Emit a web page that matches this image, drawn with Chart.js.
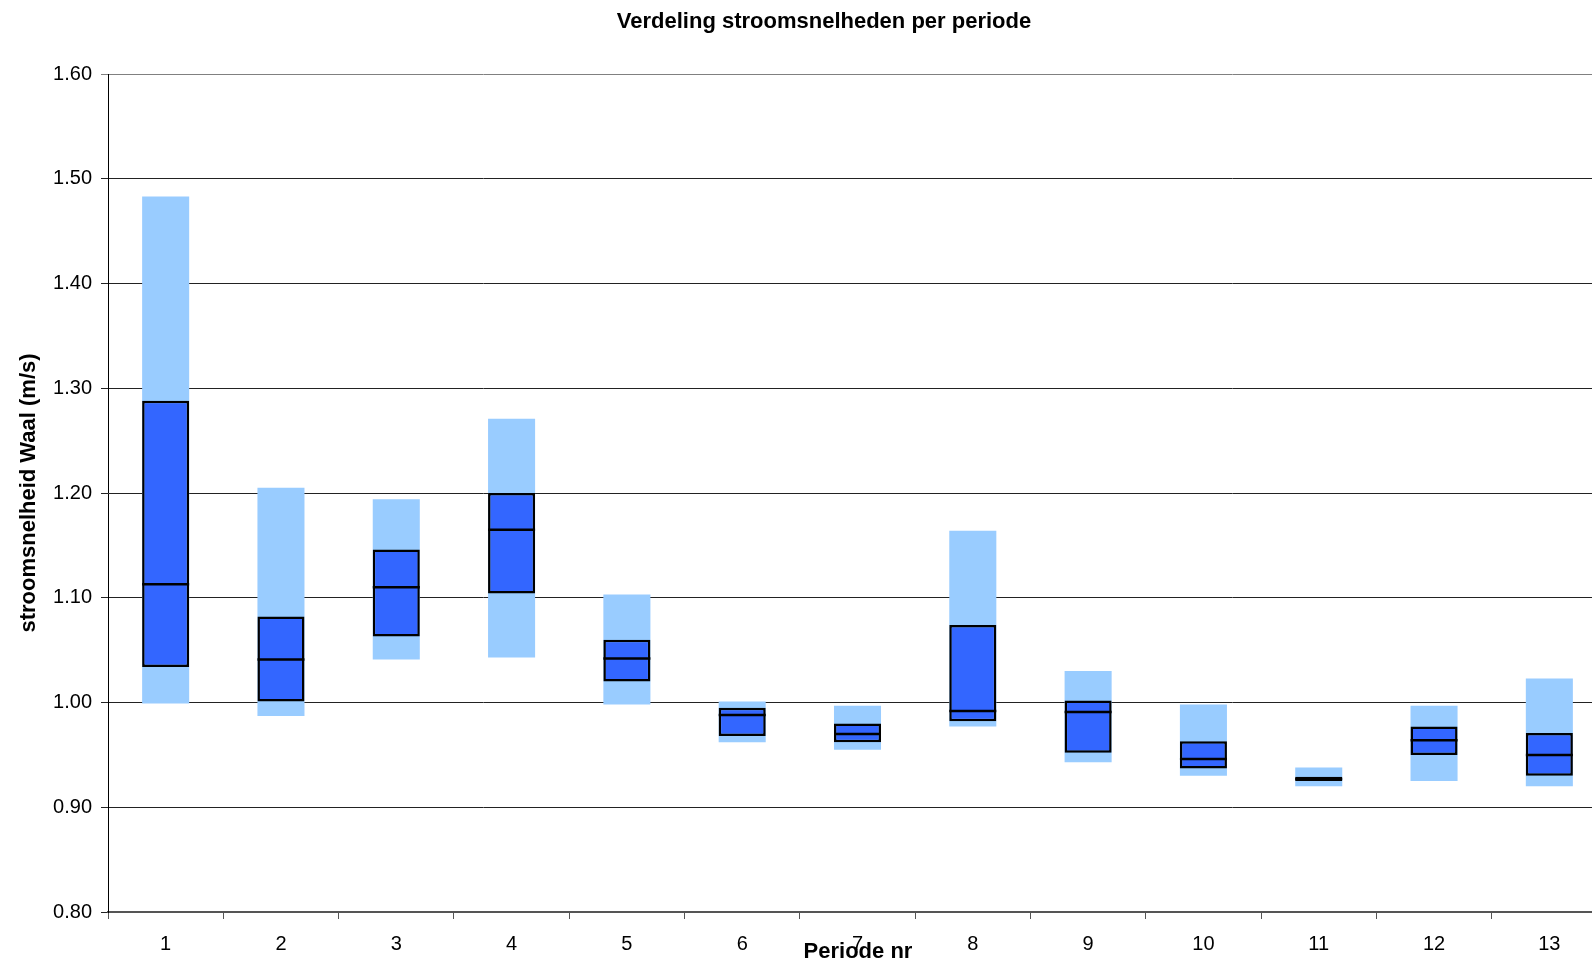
<!DOCTYPE html>
<html>
<head>
<meta charset="utf-8">
<script src="https://cdn.jsdelivr.net/npm/chart.js@4.4.1/dist/chart.umd.min.js"></script>
<style>
  html, body { margin: 0; padding: 0; background: #fff; overflow: hidden; }
  #wrap { position: absolute; left: 0; top: 0; width: 1620px; height: 963px; }
  canvas { display: block; }
</style>
</head>
<body>
<div id="wrap"><canvas id="c" width="1620" height="963" style="width:1620px;height:963px"></canvas></div>
<script>
const periods   = ['1','2','3','4','5','6','7','8','9','10','11','12','13'];
const lightMin  = [0.999, 0.987, 1.041, 1.043, 0.998, 0.962, 0.955, 0.977, 0.943, 0.930, 0.920, 0.925, 0.920];
const lightMax  = [1.483, 1.205, 1.194, 1.271, 1.103, 1.001, 0.997, 1.164, 1.030, 0.998, 0.938, 0.997, 1.023];
const boxLow    = [1.034, 1.001, 1.063, 1.104, 1.020, 0.968, 0.962, 0.982, 0.952, 0.937, 0.925, 0.950, 0.930];
const boxHigh   = [1.288, 1.082, 1.146, 1.200, 1.060, 0.995, 0.980, 1.074, 1.002, 0.963, 0.929, 0.977, 0.971];
const medians   = [1.113, 1.041, 1.110, 1.165, 1.042, 0.988, 0.970, 0.992, 0.991, 0.946, 0.927, 0.964, 0.950];
const yTicks    = [0.80, 0.90, 1.00, 1.10, 1.20, 1.30, 1.40, 1.50, 1.60];

const chartTitle = 'Verdeling stroomsnelheden per periode';
const xTitle = 'Periode nr';
const yTitle = 'stroomsnelheid Waal (m/s)';

const FONT = '"Liberation Sans", Arial, sans-serif';

const textPlugin = {
  id: 'texts',
  afterDraw(chart) {
    const ctx = chart.ctx;
    ctx.save();
    ctx.fillStyle = '#000';
    ctx.font = 'bold 22px ' + FONT;
    ctx.textAlign = 'center';
    ctx.textBaseline = 'alphabetic';
    ctx.fillText(chartTitle, 824, 28);
    ctx.fillText(xTitle, 858, 958);
    ctx.translate(35, 493);
    ctx.rotate(-Math.PI / 2);
    ctx.fillText(yTitle, 0, 0);
    ctx.restore();
  }
};

new Chart(document.getElementById('c'), {
  data: {
    labels: periods,
    datasets: [
      {
        type: 'line',
        data: medians,
        showLine: false,
        pointStyle: 'line',
        pointRadius: 23.5,
        pointHoverRadius: 23.5,
        pointBorderWidth: 2.5,
        pointBorderColor: '#000',
        borderColor: '#000',
        order: 1
      },
      {
        type: 'bar',
        data: boxLow.map((v, i) => [v, boxHigh[i]]),
        backgroundColor: '#3366FF',
        borderColor: '#000',
        borderWidth: 2.5,
        borderSkipped: false,
        grouped: false,
        barPercentage: 0.408,
        categoryPercentage: 1,
        order: 2
      },
      {
        type: 'bar',
        data: lightMin.map((v, i) => [v, lightMax[i]]),
        backgroundColor: '#99CCFF',
        borderWidth: 0,
        grouped: false,
        barPercentage: 0.408,
        categoryPercentage: 1,
        order: 3
      }
    ]
  },
  options: {
    responsive: false,
    animation: false,
    events: [],
    layout: { autoPadding: false, padding: { left: 0, right: 13, top: 74, bottom: 0 } },
    plugins: { legend: { display: false }, tooltip: { enabled: false }, title: { display: false } },
    scales: {
      x: {
        type: 'category',
        offset: true,
        grid: { offset: true, drawOnChartArea: false, drawTicks: true, tickLength: 7, color: '#555', lineWidth: 1 },
        border: { display: true, color: '#555', width: 2 },
        ticks: { color: '#000', font: { family: FONT, size: 20 }, padding: 13, maxRotation: 0, autoSkip: false },
        afterFit(scale) { scale.height = 51; scale.paddingLeft = 0; scale.paddingRight = 0; }
      },
      y: {
        min: 0.8,
        max: 1.6,
        afterBuildTicks(scale) { scale.ticks = yTicks.map(v => ({ value: v })); },
        grid: {
          color: ctx => (ctx.tick && Math.abs(ctx.tick.value - 1.6) < 1e-6) ? '#808080' : '#222',
          lineWidth: 1,
          tickLength: 7,
          drawTicks: true
        },
        border: { display: true, color: '#000', width: 1 },
        ticks: {
          color: '#000',
          font: { family: FONT, size: 20 },
          padding: 9,
          callback: v => Number(v).toFixed(2)
        },
        afterFit(scale) { scale.width = 108; scale.paddingTop = 0; scale.paddingBottom = 0; }
      }
    }
  },
  plugins: [textPlugin]
});
</script>
</body>
</html>
